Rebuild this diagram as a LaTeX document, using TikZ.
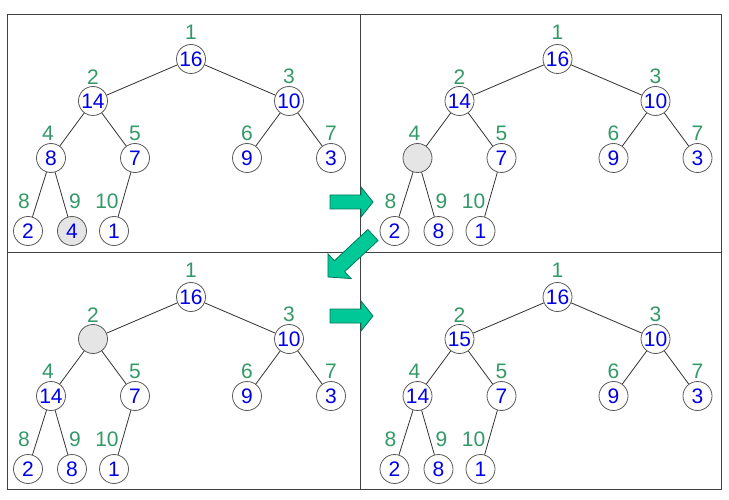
\documentclass[tikz,border=0pt]{standalone}
\usepackage{fontspec}
\setmainfont{Liberation Sans}
\definecolor{lblgreen}{RGB}{51,153,102}
\definecolor{numblue}{RGB}{0,0,230}
\definecolor{arrfill}{RGB}{0,200,150}
\definecolor{arrline}{RGB}{0,120,90}
\definecolor{grayfill}{RGB}{229,229,229}
\tikzset{
  heapnode/.style={circle, draw=black!65, line width=0.8pt, minimum size=29pt,
    inner sep=0pt, text=numblue, font=\fontsize{21}{25}\selectfont,
    text height=15.5pt, text depth=0pt},
  idxlabel/.style={text=lblgreen, font=\fontsize{21}{25}\selectfont, inner sep=0pt},
  treeedge/.style={draw=black!80, line width=0.8pt},
  framestyle/.style={draw=black!75, line width=1pt},
  blockarrow/.style={fill=arrfill, draw=arrline, line width=0.8pt, line join=miter}
}
\newcommand\heappanel[4]{%
  \begin{scope}[shift={(#2,#3)}]
    \foreach \v/\fc [count=\i] in {#4} {
      \pgfmathsetmacro\nx{{191,93,289,51,135,247,331,28,72,114}[\i-1]}
      \pgfmathsetmacro\ny{{59,101,101,158,158,158,158,231,231,231}[\i-1]}
      \pgfmathsetmacro\lx{{191,93,289,48,135,247,331,24,75,107}[\i-1]}
      \pgfmathsetmacro\ly{{32,77,76,133,133,133,133,201,201,201}[\i-1]}
      \node[heapnode, fill=\fc] (#1n\i) at (\nx,\ny) {\v};
      \node[idxlabel] (#1l\i) at (\lx,\ly) {\i};
    }
    \foreach \c in {2,...,10} {
      \pgfmathtruncatemacro\parentidx{\c/2}
      \draw[treeedge] (#1n\parentidx) -- (#1n\c);
    }
  \end{scope}}
\begin{document}
\begin{tikzpicture}[x=1pt, y=-1pt]
  \useasboundingbox (0,0) rectangle (729,500);
  % frame
  \draw[framestyle] (7,15) rectangle (721,489);
  \draw[framestyle] (360,15) -- (360,489);
  \draw[framestyle] (7,252) -- (721,252);
  % panels
  \heappanel{a}{0}{0}{16/white,14/white,10/white,8/white,7/white,9/white,3/white,2/white,4/grayfill,1/white}
  \heappanel{b}{366.5}{0}{16/white,14/white,10/white,{}/grayfill,7/white,9/white,3/white,2/white,8/white,1/white}
  \heappanel{c}{0}{238}{16/white,{}/grayfill,10/white,14/white,7/white,9/white,3/white,2/white,8/white,1/white}
  \heappanel{d}{366.5}{238}{16/white,15/white,10/white,14/white,7/white,9/white,3/white,2/white,8/white,1/white}
  % block arrows
  \draw[blockarrow] (330,195) -- (361,195) -- (361,187) -- (373,202) -- (361,217)
    -- (361,209) -- (330,209) -- cycle;
  \draw[blockarrow] (378.1,240.5) -- (344.6,271.7) -- (351.1,278.6) -- (328,277)
    -- (327.9,253.8) -- (334.4,260.7) -- (367.9,229.5) -- cycle;
  \draw[blockarrow] (330,309) -- (361,309) -- (361,301) -- (373,316) -- (361,331)
    -- (361,323) -- (330,323) -- cycle;
\end{tikzpicture}
\end{document}
